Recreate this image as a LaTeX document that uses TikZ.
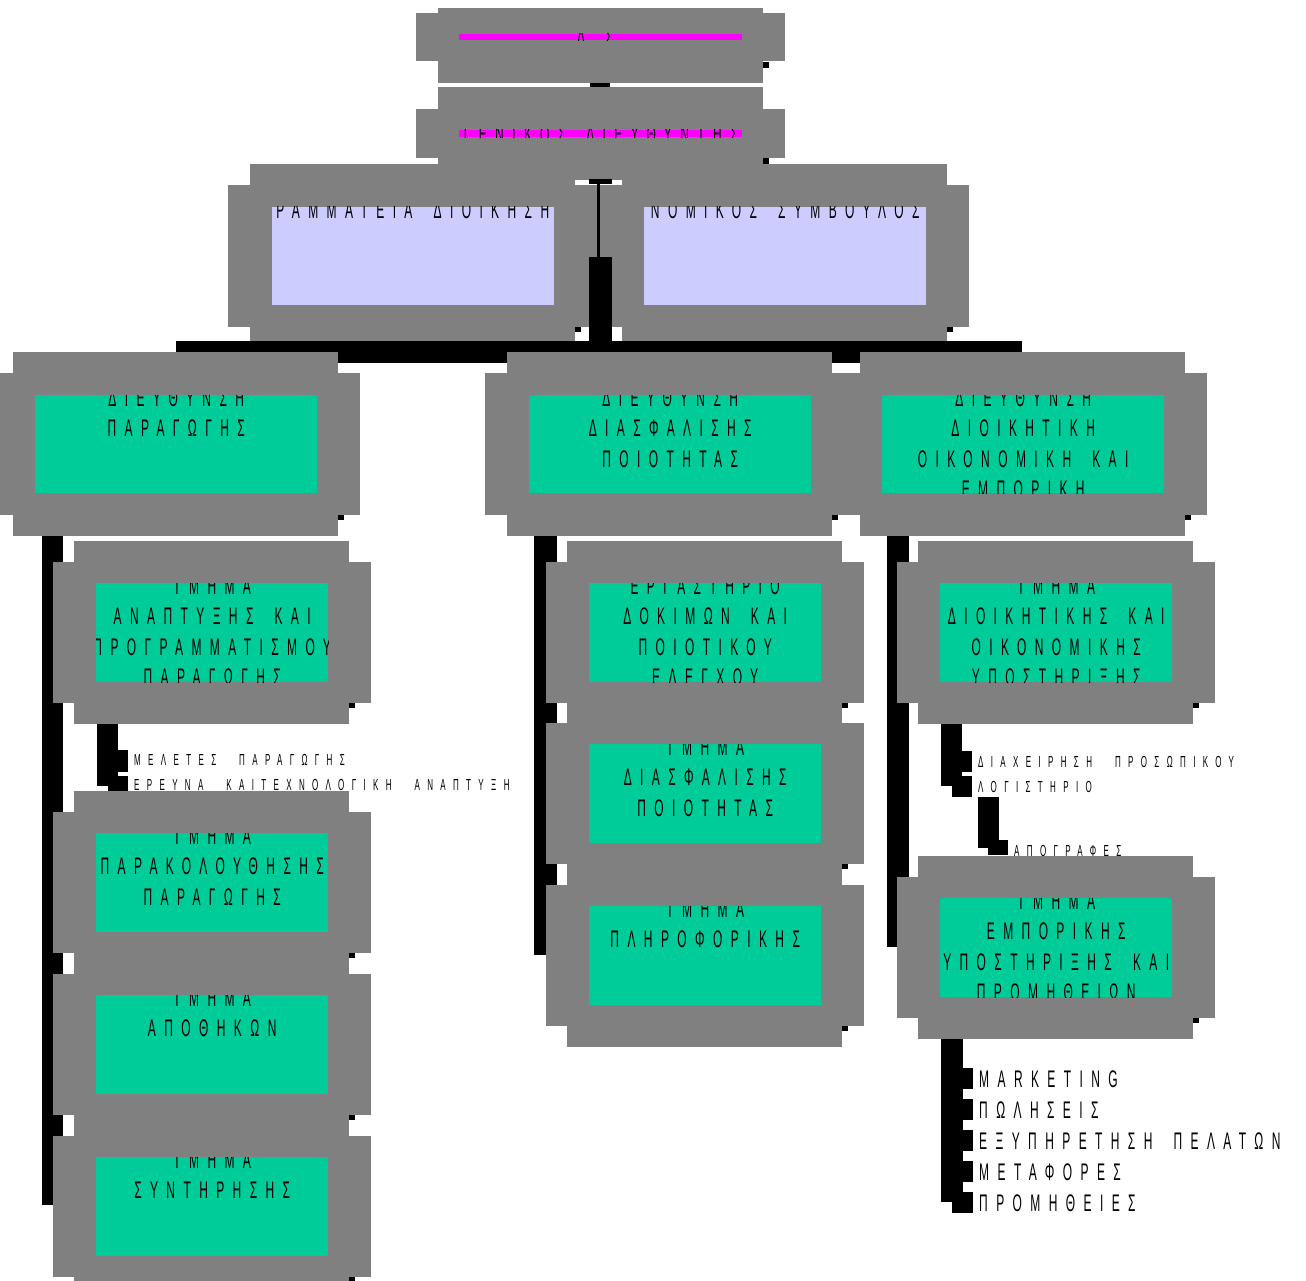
\documentclass[tikz,border=0pt]{standalone}
\usepackage{fontspec}
\usepackage{tikz}
\usetikzlibrary{calc}
\newfontfamily\orgfont[FakeStretch=0.5,LetterSpace=35,WordSpace=1.8]{Liberation Sans}
\newfontfamily\orgsmall[FakeStretch=0.5,LetterSpace=46,WordSpace=2.4]{Liberation Sans}
\definecolor{boxgray}{RGB}{128,128,128}
\definecolor{deptgreen}{RGB}{0,204,153}
\definecolor{staffblue}{RGB}{204,204,255}
\definecolor{headpink}{RGB}{255,0,255}

\begin{document}
\begin{tikzpicture}[x=1pt,y=-1pt,
  frame/.style={fill=boxgray},
  title/.style={font=\orgfont\fontsize{24}{30.5}\selectfont,align=center,inner sep=0pt,anchor=north},
  item/.style={font=\orgsmall\fontsize{16}{20}\selectfont,inner sep=0pt,anchor=base west},
  bigitem/.style={font=\orgfont\fontsize{24}{30}\selectfont,inner sep=0pt,anchor=base west}]
\useasboundingbox (0,0) rectangle (1306,1281);
%board and general manager
\fill[frame] (438,8) rectangle (763,83);
\fill[frame] (416,13) rectangle (785,61);
\fill (763,62) rectangle (769,68);
\node[fill=headpink,inner sep=0pt,minimum width=283,minimum height=6,anchor=north west] (board) at (459,34) {};
\begin{scope}
\clip (board.north west) rectangle (board.south east);
\node[title,anchor=base] at ($(board.center)+(0,8.5)$) {Δ.Σ.};
\end{scope}
\fill (590,83) rectangle (610,87);
\fill[frame] (438,87) rectangle (763,180);
\fill[frame] (416,109) rectangle (785,158);
\fill (763,158) rectangle (769,164);
\node[fill=headpink,inner sep=0pt,minimum width=283,minimum height=7,anchor=north west] (gm) at (459,130) {};
\begin{scope}
\clip (gm.north west) rectangle (gm.south east);
\node[title,anchor=base] at ($(gm.center)+(0,8.5)$) {ΓΕΝΙΚΟΣ ΔΙΕΥΘΥΝΤΗΣ};
\end{scope}
%staff and directorates
\foreach \nm/\x/\y/\col/\txt in {
  secr/228/185/staffblue/{ΓΡΑΜΜΑΤΕΙΑ ΔΙΟΙΚΗΣΗΣ},
  legal/600/185/staffblue/{ΝΟΜΙΚΟΣ ΣΥΜΒΟΥΛΟΣ},
  prod/-9/373/deptgreen/{ΔΙΕΥΘΥΝΣΗ\\ΠΑΡΑΓΩΓΗΣ},
  qual/485/373/deptgreen/{ΔΙΕΥΘΥΝΣΗ\\ΔΙΑΣΦΑΛΙΣΗΣ\\ΠΟΙΟΤΗΤΑΣ},
  comm/838/373/deptgreen/{ΔΙΕΥΘΥΝΣΗ\\ΔΙΟΙΚΗΤΙΚΗ\\ΟΙΚΟΝΟΜΙΚΗ ΚΑΙ\\ΕΜΠΟΡΙΚΗ}}
{
  \fill[frame] (\x+22,\y-21) rectangle +(325,184);
  \fill[frame] (\x,\y) rectangle +(369,142);
  \fill (\x+347,\y+142) rectangle +(6,5);
  \node[fill=\col,inner sep=0pt,minimum width=282,minimum height=98,anchor=north west] (\nm) at (\x+44,\y+22) {};
  \begin{scope}
  \clip (\nm.north west) rectangle (\nm.south east);
  \node[title] at ($(\nm.north)+(0,-5.5)$) {\txt};
  \end{scope}
  %trunk
  \ifnum\y=185
    \fill (597,179) rectangle (600,257);
    \fill (589,179) rectangle (612,184);
    \fill (589,257) rectangle (612,342);
    \fill (176,341) rectangle (1022,363);
  \fi
}
%columns
\fill (42,536) rectangle (63,1205);
\fill (534,536) rectangle (557,955);
\fill (887,536) rectangle (909,947);
%sub-units of development
\fill (97,724) rectangle (118,786);
\fill (118,750) rectangle (128,772);
\fill (108,776) rectangle (128,791);
\node[item] (study) at (134,765) {ΜΕΛΕΤΕΣ ΠΑΡΑΓΩΓΗΣ};
\node[item] (research) at (134,790) {ΕΡΕΥΝΑ ΚΑΙΤΕΧΝΟΛΟΓΙΚΗ ΑΝΑΠΤΥΞΗ};
%sub-units of administration
\fill (941,724) rectangle (962,786);
\fill (962,751) rectangle (972,772);
\fill (952,776) rectangle (972,797);
\fill (978,797) rectangle (999,848);
\fill (988,840) rectangle (1008,855);
\node[item] (staff) at (978,767) {ΔΙΑΧΕΙΡΗΣΗ ΠΡΟΣΩΠΙΚΟΥ};
\node[item] (acct) at (978,792) {ΛΟΓΙΣΤΗΡΙΟ};
\node[item] (stock) at (1014,856) {ΑΠΟΓΡΑΦΕΣ};
%sub-units of sales
\fill (941,1039) rectangle (963,1202);
\foreach \t/\y/\txt in {mkt/1068/MARKETING,sal/1099/ΠΩΛΗΣΕΙΣ,cust/1130/ΕΞΥΠΗΡΕΤΗΣΗ ΠΕΛΑΤΩΝ,trans/1161/ΜΕΤΑΦΟΡΕΣ,supp/1192/ΠΡΟΜΗΘΕΙΕΣ}
{
  \fill (952,\y) rectangle +(21,21);
  \node[bigitem] (\t) at (979,\y+19) {\txt};
}
%departments
\foreach \nm/\x/\y/\txt in {
  devel/53/562/{ΤΜΗΜΑ\\ΑΝΑΠΤΥΞΗΣ ΚΑΙ\\ΠΡΟΓΡΑΜΜΑΤΙΣΜΟΥ\\ΠΑΡΑΓΩΓΗΣ},
  monit/53/812/{ΤΜΗΜΑ\\ΠΑΡΑΚΟΛΟΥΘΗΣΗΣ\\ΠΑΡΑΓΩΓΗΣ},
  store/53/974/{ΤΜΗΜΑ\\ΑΠΟΘΗΚΩΝ},
  maint/53/1136/{ΤΜΗΜΑ\\ΣΥΝΤΗΡΗΣΗΣ},
  lab/546/562/{ΕΡΓΑΣΤΗΡΙΟ\\ΔΟΚΙΜΩΝ ΚΑΙ\\ΠΟΙΟΤΙΚΟΥ\\ΕΛΕΓΧΟΥ},
  qa/546/723/{ΤΜΗΜΑ\\ΔΙΑΣΦΑΛΙΣΗΣ\\ΠΟΙΟΤΗΤΑΣ},
  infor/546/885/{ΤΜΗΜΑ\\ΠΛΗΡΟΦΟΡΙΚΗΣ},
  admin/897/562/{ΤΜΗΜΑ\\ΔΙΟΙΚΗΤΙΚΗΣ ΚΑΙ\\ΟΙΚΟΝΟΜΙΚΗΣ\\ΥΠΟΣΤΗΡΙΞΗΣ},
  sales/897/877/{ΤΜΗΜΑ\\ΕΜΠΟΡΙΚΗΣ\\ΥΠΟΣΤΗΡΙΞΗΣ ΚΑΙ\\ΠΡΟΜΗΘΕΙΩΝ}}
{
  \fill[frame] (\x+21,\y-21) rectangle +(275,183);
  \fill[frame] (\x,\y) rectangle +(318,141);
  \fill (\x+296,\y+141) rectangle +(6,5);
  \node[fill=deptgreen,inner sep=0pt,minimum width=232,minimum height=99,anchor=north west] (\nm) at (\x+43,\y+21) {};
  \begin{scope}
  \clip (\nm.north west) rectangle (\nm.south east);
  \node[title] at ($(\nm.north)+(0,-5.5)$) {\txt};
  \end{scope}
}
\end{tikzpicture}
\end{document}
